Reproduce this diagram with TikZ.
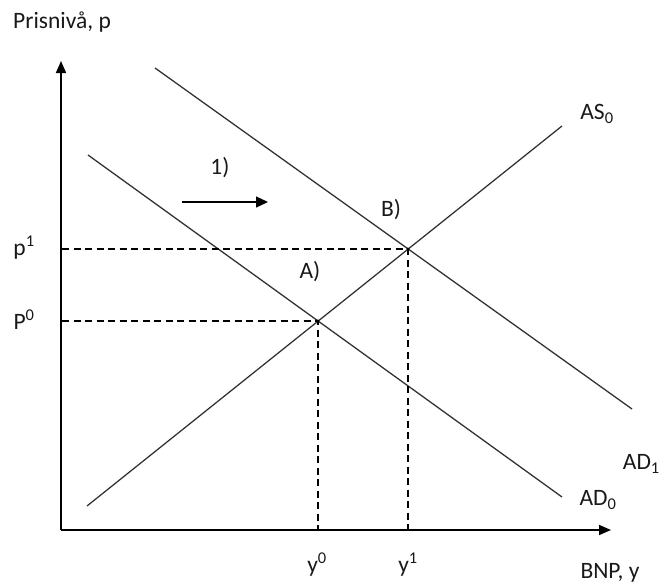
\documentclass[tikz,border=0pt]{standalone}
\usepackage{fontspec}
\setmainfont{Carlito}
\usetikzlibrary{arrows.meta}
\begin{document}
\begin{tikzpicture}[x=1pt,y=-1pt,
  axis/.style={line width=1.7pt,-{Triangle[length=12pt,width=10pt]}},
  curve/.style={line width=1.3pt,draw=black!80},
  guide/.style={line width=1.4pt,dash pattern=on 7pt off 4.5pt},
  lbl/.style={font=\fontsize{23.5}{27}\selectfont,inner sep=0pt,text=black!90},
  shiftarrow/.style={line width=1.4pt,-{Triangle[length=12pt,width=11pt]}}]
\useasboundingbox (0,0) rectangle (662,584);
% axes
\coordinate (O) at (61,530);
\coordinate (ytop) at (61,61);
\coordinate (xend) at (611,530);
\draw[axis] (O) -- (ytop);
\draw[axis] (O) -- (xend);
% equilibrium points
\coordinate (A) at (318,321);
\coordinate (B) at (408,249);
% curves
\coordinate (as1) at (87,506);
\coordinate (as2) at (562,126);
\coordinate (ad0a) at (88,155);
\coordinate (ad0b) at (562,497);
\coordinate (ad1a) at (155,68);
\coordinate (ad1b) at (632,409);
\draw[curve] (as1) -- (as2);
\draw[curve] (ad0a) -- (ad0b);
\draw[curve] (ad1a) -- (ad1b);
% guides
\coordinate (p1y) at (62,249);
\coordinate (p0y) at (62,321);
\coordinate (y1x) at (408,530);
\coordinate (y0x) at (318,530);
\draw[guide] (p1y) -- (B) -- (y1x);
\draw[guide] (p0y) -- (A) -- (y0x);
\fill (A) circle (1.6pt);
\fill (B) circle (1.6pt);
% shift arrow
\coordinate (s1) at (182,202);
\coordinate (s2) at (268,202);
\draw[shiftarrow] (s1) -- (s2);
% labels
\node[lbl,anchor=west] (ylab) at (13,22) {Prisnivå, p};
\node[lbl,anchor=north] (xlab) at (610,563) {BNP, y};
\node[lbl] (p1) at (24,248) {p\textsuperscript{1}};
\node[lbl] (p0) at (24,320) {P\textsuperscript{0}};
\node[lbl] (y0) at (317,565) {y\textsuperscript{0}};
\node[lbl] (y1) at (408,565) {y\textsuperscript{1}};
\node[lbl] (as) at (597,114) {AS\textsubscript{0}};
\node[lbl,anchor=east] (ad1) at (660,464) {AD\textsubscript{1}};
\node[lbl] (ad0) at (598,500) {AD\textsubscript{0}};
\node[lbl] (one) at (220,168) {1)};
\node[lbl] (Bl) at (391,210) {B)};
\node[lbl] (Al) at (310,272) {A)};
\end{tikzpicture}
\end{document}
